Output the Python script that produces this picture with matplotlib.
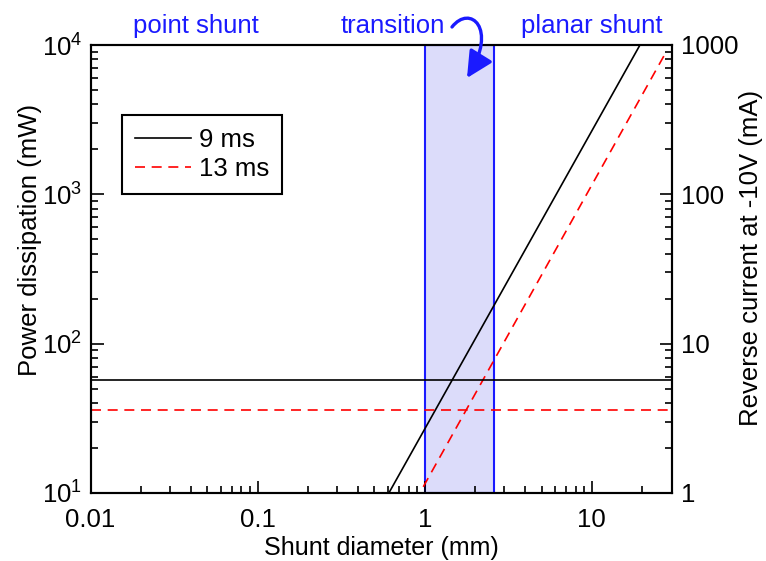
import matplotlib
matplotlib.use("Agg")
import matplotlib.pyplot as plt
from matplotlib.patches import FancyArrowPatch
from matplotlib.path import Path
from matplotlib.transforms import IdentityTransform, blended_transform_factory
from matplotlib.ticker import LogLocator, NullFormatter, LogFormatterMathtext, FuncFormatter

# ---- data -------------------------------------------------------------
diameter_9ms = [0.61, 19.4]          # mm
power_9ms = [10.0, 10000.0]          # mW
diameter_13ms = [0.98, 28.0]         # mm
power_13ms = [11.0, 9100.0]          # mW
limit_9ms = 57.0                     # mW, horizontal level
limit_13ms = 36.0                    # mW, horizontal level
transition_range = [1.0, 2.6]        # mm
series_labels = ["9 ms", "13 ms"]
region_labels = ["point shunt", "transition", "planar shunt"]
region_x = [0.043, 0.64, 10.0]

# ---- style ------------------------------------------------------------
plt.rcParams["font.family"] = ["Liberation Sans", "DejaVu Sans"]
plt.rcParams["mathtext.fontset"] = "custom"
plt.rcParams["mathtext.rm"] = "Liberation Sans"
plt.rcParams["mathtext.it"] = "Liberation Sans:italic"
plt.rcParams["mathtext.bf"] = "Liberation Sans:bold"
FS = 18.5
XLFS = 18
YLFS = 18.5
BLUE = "#1a1aff"
DASH = (0, (6, 4))

W, H = 766, 561
fig = plt.figure(figsize=(W / 100, H / 100), dpi=100)
left, right, top, bottom = 90.5, 671.6, 45, 493
ax = fig.add_axes([left / W, 1 - bottom / H, (right - left) / W, (bottom - top) / H])

ax.set_xscale("log")
ax.set_yscale("log")
ax.set_xlim(0.01, 30)
ax.set_ylim(10, 1e4)

# transition band
ax.axvspan(transition_range[0], transition_range[1], facecolor="#dcdcfa",
           edgecolor=BLUE, lw=1.5, zorder=0)

# curves
ax.plot(diameter_9ms, power_9ms, color="black", lw=1.2, label=series_labels[0])
ax.plot(diameter_13ms, power_13ms, color="red", lw=1.2, ls=DASH, label=series_labels[1])
ax.axhline(limit_9ms, color="black", lw=1.2)
ax.axhline(limit_13ms, color="red", lw=1.2, ls=DASH)

# ticks
ax.xaxis.set_major_locator(LogLocator(base=10, numticks=10))
ax.xaxis.set_minor_locator(LogLocator(base=10, subs=range(2, 10), numticks=20))
ax.xaxis.set_minor_formatter(NullFormatter())
ax.xaxis.set_major_formatter(FuncFormatter(lambda v, _: f"{v:g}"))
ax.yaxis.set_major_formatter(LogFormatterMathtext())
ax.yaxis.set_minor_formatter(NullFormatter())
ax.tick_params(which="both", direction="in", top=False, right=False,
               labelsize=FS, width=1.2)
ax.tick_params(which="major", length=9)
ax.tick_params(which="minor", length=5)
ax.tick_params(axis="x", which="major", pad=11)
ax.tick_params(axis="y", which="major", pad=6)
for s in ax.spines.values():
    s.set_linewidth(1.5)

ax2 = ax.twinx()
ax2.set_yscale("log")
ax2.set_ylim(1, 1000)
ax2.yaxis.set_major_formatter(FuncFormatter(lambda v, _: f"{v:g}"))
ax2.yaxis.set_minor_formatter(NullFormatter())
ax2.tick_params(which="both", direction="in", labelsize=FS, width=1.2)
ax2.tick_params(which="major", length=9, pad=7)
ax2.tick_params(which="minor", length=5)
for s in ax2.spines.values():
    s.set_linewidth(1.5)

ax.set_xlabel("Shunt diameter (mm)", fontsize=XLFS)
ax.xaxis.set_label_coords(0.5, -0.097)
ax.set_ylabel("Power dissipation (mW)", fontsize=YLFS)
ax.yaxis.set_label_coords(-0.084, 0.565)
ax2.set_ylabel("Reverse current at -10V (mA)", fontsize=YLFS)
ax2.yaxis.set_label_coords(1.116, 0.525)

# legend
leg = ax.legend(loc="upper left", bbox_to_anchor=(0.054, 0.844), fontsize=FS,
                frameon=True, fancybox=False, edgecolor="black", framealpha=1,
                handlelength=2.2, handletextpad=0.3, borderpad=0.5,
                labelspacing=0.22, borderaxespad=0)
leg.get_frame().set_linewidth(1.5)

# region names above the plot
trans = blended_transform_factory(ax.transData, ax.transAxes)
for name, xpos in zip(region_labels, region_x):
    ax.text(xpos, 1.027, name, transform=trans, ha="center", va="baseline",
            fontsize=FS, color=BLUE)

# curved arrow pointing into the transition band
verts = [(452, H - 27), (470, H - 4), (498, H - 28), (467, H - 78)]
codes = [Path.MOVETO, Path.CURVE4, Path.CURVE4, Path.CURVE4]
arrow = FancyArrowPatch(path=Path(verts, codes),
                        arrowstyle="-|>,head_length=0.8,head_width=0.4",
                        mutation_scale=20, color=BLUE, lw=2.4,
                        transform=IdentityTransform())
fig.add_artist(arrow)

fig.savefig("out.png", dpi=100)
